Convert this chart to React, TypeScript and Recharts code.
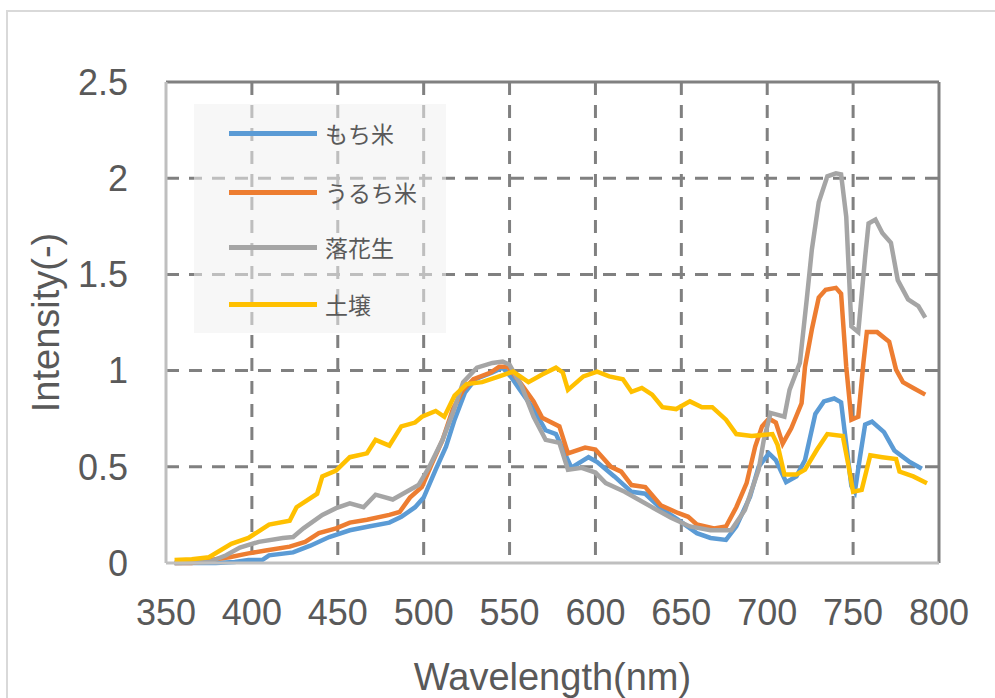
import React from 'react';
import { LineChart, Line, XAxis, YAxis, CartesianGrid, ReferenceLine, Label } from 'recharts';

const xTicks = [350, 400, 450, 500, 550, 600, 650, 700, 750, 800];
const yTicks = [0, 0.5, 1, 1.5, 2, 2.5];
const xGrid = [400, 450, 500, 550, 600, 650, 700, 750];
const yGrid = [0.5, 1, 1.5, 2];

const seriesNames = ['もち米', 'うるち米', '落花生', '土壌'];
const seriesColors = ['#5B9BD5', '#ED7D31', '#A5A5A5', '#FFC000'];

const mochiWl = [355,365,379,390,398,406,410,424,434,445,457,468,480,487,495,500,507,513,518,524,530,540,546,551,556,564,571,577,586,596,601,611,621,629,638,648,659,667,676,682,690,695,701,705,711,717,722,728,733,739,743,745,749,751,754,757,761,768,774,783,790];
const mochiVal = [0,0,0,0.005,0.015,0.015,0.04,0.055,0.09,0.135,0.17,0.19,0.21,0.24,0.29,0.34,0.485,0.605,0.745,0.885,0.955,0.99,1.015,0.965,0.9,0.8,0.69,0.67,0.495,0.55,0.525,0.45,0.37,0.36,0.285,0.225,0.155,0.13,0.12,0.19,0.345,0.5,0.57,0.535,0.42,0.45,0.535,0.775,0.84,0.855,0.835,0.69,0.4,0.37,0.55,0.72,0.735,0.68,0.585,0.525,0.49];

const uruchiWl = [355,365,375,387,398,408,422,431,439,449,457,467,480,486,492,499,505,511,517,523,529,539,544,549,556,564,569,579,584,594,600,609,615,621,629,638,648,654,659,669,676,682,688,693,697,701,705,709,714,720,722,726,730,734,740,743,746,749,753,756,758,764,771,775,779,785,792];
const uruchiVal = [0,0,0.015,0.03,0.05,0.065,0.085,0.11,0.155,0.18,0.21,0.225,0.25,0.265,0.34,0.395,0.52,0.64,0.8,0.9,0.955,0.99,1.02,1.02,0.94,0.84,0.755,0.71,0.57,0.6,0.59,0.5,0.475,0.405,0.395,0.3,0.26,0.24,0.2,0.18,0.19,0.29,0.415,0.605,0.71,0.75,0.73,0.62,0.7,0.83,1.02,1.215,1.38,1.42,1.43,1.4,1.02,0.745,0.76,1.04,1.2,1.2,1.15,1.005,0.94,0.91,0.875];

const rakkaWl = [355,375,385,393,404,418,424,430,441,449,457,465,472,482,490,497,503,511,517,523,531,540,546,550,557,564,571,579,584,592,600,606,617,625,634,644,655,667,679,687,695,698,702,710,713,719,723,726,730,735,740,743,746,749,753,757,759,763,767,772,776,782,788,792];
const rakkaVal = [0,0.005,0.04,0.08,0.11,0.13,0.135,0.18,0.25,0.285,0.31,0.29,0.355,0.33,0.37,0.405,0.495,0.64,0.78,0.94,1.015,1.04,1.047,1.03,0.92,0.76,0.64,0.625,0.485,0.495,0.47,0.415,0.37,0.33,0.285,0.235,0.19,0.17,0.17,0.275,0.485,0.64,0.78,0.76,0.9,1.04,1.37,1.63,1.875,2.01,2.025,2.02,1.8,1.23,1.2,1.59,1.765,1.785,1.715,1.665,1.47,1.37,1.335,1.275];

const dojoWl = [355,365,375,388,398,410,422,426,438,441,449,457,467,472,480,487,495,499,507,512,518,525,534,544,552,561,569,577,581,584,593,601,608,616,621,627,633,639,647,655,662,668,676,682,691,703,706,710,717,722,729,735,744,747,750,755,760,767,775,777,785,793];
const dojoVal = [0.015,0.02,0.03,0.1,0.13,0.2,0.22,0.29,0.36,0.45,0.48,0.55,0.57,0.64,0.61,0.71,0.73,0.76,0.79,0.76,0.87,0.93,0.94,0.97,0.995,0.94,0.98,1.015,0.99,0.9,0.97,0.995,0.97,0.955,0.89,0.91,0.875,0.81,0.8,0.84,0.81,0.81,0.745,0.67,0.66,0.67,0.615,0.46,0.46,0.485,0.59,0.67,0.66,0.52,0.37,0.38,0.56,0.55,0.54,0.475,0.45,0.415];

const toPoints = (wl: number[], val: number[]) => wl.map((x, i) => ({ x, y: val[i] }));
const seriesData = [
  toPoints(mochiWl, mochiVal),
  toPoints(uruchiWl, uruchiVal),
  toPoints(rakkaWl, rakkaVal),
  toPoints(dojoWl, dojoVal),
];

const FONT = '"Liberation Sans", Arial, sans-serif';
const TEXT = '#595959';

export default function App() {
  return (
    <div style={{ position: 'absolute', left: 0, top: 0, width: 995, height: 698, overflow: 'hidden', background: '#fff' }}>
      <div style={{ position: 'absolute', left: 6, top: 10, width: 1000, height: 700, borderLeft: '2px solid #d9d9d9', borderTop: '2px solid #d9d9d9' }} />
      <div style={{ position: 'absolute', left: 0, top: 0 }}>
        <LineChart width={995} height={698} margin={{ top: 82, right: 56, bottom: 0, left: 0 }}>
          <CartesianGrid
            horizontalValues={yGrid}
            verticalValues={xGrid}
            stroke="#808080"
            strokeWidth={3}
            strokeDasharray="13 10"
          />
          <XAxis
            type="number"
            dataKey="x"
            domain={[350, 800]}
            ticks={xTicks}
            allowDataOverflow
            height={135}
            axisLine={{ stroke: '#bfbfbf', strokeWidth: 3 }}
            tickLine={false}
            tickSize={0}
            tickMargin={36}
            tick={{ fill: TEXT, fontSize: 36, fontFamily: FONT }}
          >
            <Label value="Wavelength(nm)" position="insideBottom" offset={8} fill={TEXT} fontSize={38} fontFamily={FONT} />
          </XAxis>
          <YAxis
            type="number"
            domain={[0, 2.5]}
            ticks={yTicks}
            width={166}
            axisLine={{ stroke: '#bfbfbf', strokeWidth: 3 }}
            tickLine={false}
            tickSize={0}
            tickMargin={38}
            tick={{ fill: TEXT, fontSize: 36, fontFamily: FONT }}
          >
            <Label value="Intensity(-)" angle={-90} position="insideLeft" offset={46} fill={TEXT} fontSize={38} fontFamily={FONT} style={{ textAnchor: 'middle' }} />
          </YAxis>
          <ReferenceLine y={2.5} stroke="#808080" strokeWidth={3} />
          <ReferenceLine x={800} stroke="#808080" strokeWidth={3} />
          {seriesData.map((d, i) => (
            <Line
              key={seriesNames[i]}
              data={d}
              dataKey="y"
              name={seriesNames[i]}
              type="linear"
              stroke={seriesColors[i]}
              strokeWidth={4.5}
              dot={false}
              activeDot={false}
              isAnimationActive={false}
            />
          ))}
        </LineChart>
      </div>
      <div style={{ position: 'absolute', left: 194, top: 104, width: 252, height: 229, background: 'rgba(240,240,240,0.55)', zIndex: 2 }}>
        {seriesNames.map((n, i) => {
          const cy = [29, 88, 143, 200][i];
          return (
            <div key={n}>
              <div style={{ position: 'absolute', left: 35, top: cy - 2.5, width: 88, height: 5, background: seriesColors[i] }} />
              <div style={{ position: 'absolute', left: 131, top: cy - 15, height: 30, lineHeight: '30px', fontSize: 23, color: TEXT, fontFamily: '"Noto Sans CJK JP", sans-serif', whiteSpace: 'nowrap' }}>{n}</div>
            </div>
          );
        })}
      </div>
    </div>
  );
}
